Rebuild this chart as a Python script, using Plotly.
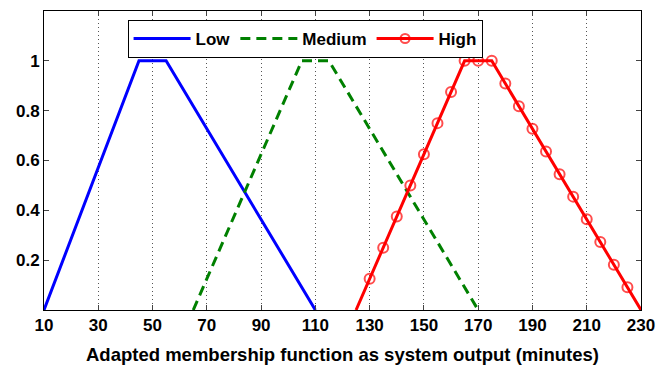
import plotly.graph_objects as go

low_x = [10, 45, 55, 110]
low_y = [0, 1, 1, 0]
med_x = [65, 105, 115, 170]
med_y = [0, 1, 1, 0]
high_x = [125, 130, 135, 140, 145, 150, 155, 160, 165, 170, 175, 180, 185, 190,
          195, 200, 205, 210, 215, 220, 225, 230]
high_y = [0, 0.125, 0.25, 0.375, 0.5, 0.625, 0.75, 0.875, 1, 1, 1, 0.909, 0.818,
          0.727, 0.636, 0.545, 0.455, 0.364, 0.273, 0.182, 0.091, 0]
x_ticks = [10, 30, 50, 70, 90, 110, 130, 150, 170, 190, 210, 230]
y_ticks = [0.2, 0.4, 0.6, 0.8, 1]
y_ticktext = ["0.2", "0.4", "0.6", "0.8", "1"]
x_title = "Adapted membership function as system output (minutes)"

msizes = [0] + [10] * (len(high_x) - 2) + [0]
FAM = "Liberation Sans, Arial, sans-serif"

fig = go.Figure()
fig.add_trace(go.Scatter(x=low_x, y=low_y, mode="lines", name="Low",
                         line=dict(color="#0000ff", width=3)))
fig.add_trace(go.Scatter(x=med_x, y=med_y, mode="lines", name="Medium",
                         line=dict(color="#008000", width=3, dash="10px,6px")))
fig.add_trace(go.Scatter(x=high_x, y=high_y, mode="lines+markers", name="High",
                         line=dict(color="#ff0000", width=3),
                         marker=dict(symbol="circle-open", size=msizes, color="#ff0000",
                                     line=dict(width=2, color="#ff0000"))))

fig.add_annotation(text=x_title, xref="paper", yref="paper", x=0.5, y=-0.1505,
                   xanchor="center", yanchor="middle", showarrow=False,
                   font=dict(family=FAM, size=18.5, color="black", weight="bold"))

fig.update_layout(
    width=656, height=367,
    margin=dict(l=44, r=15, t=11, b=57),
    paper_bgcolor="white", plot_bgcolor="white",
    font=dict(family=FAM, size=13, color="black"),
    showlegend=True,
    legend=dict(orientation="h", x=0.14, y=0.97, xanchor="left", yanchor="top",
                bgcolor="white", bordercolor="black", borderwidth=1,
                font=dict(family=FAM, size=17, color="black", weight="bold"),
                itemwidth=57, tracegroupgap=0),
    xaxis=dict(range=[10, 230], tickvals=x_ticks, ticks="inside", ticklen=5,
               showline=True, linecolor="black", linewidth=1, mirror="ticks",
               showgrid=True, gridcolor="#555555", griddash="1px,3px", gridwidth=1,
               zeroline=False, automargin=False, ticklabeloverflow="allow",
               tickfont=dict(family=FAM, size=17, color="black", weight="bold")),
    yaxis=dict(range=[0, 1.2], tickvals=y_ticks, ticktext=y_ticktext,
               ticks="inside", ticklen=5,
               showline=True, linecolor="black", linewidth=1, mirror="ticks",
               showgrid=False, zeroline=False, automargin=False,
               ticklabeloverflow="allow",
               tickfont=dict(family=FAM, size=17, color="black", weight="bold")),
)

fig.write_html("out.html")
